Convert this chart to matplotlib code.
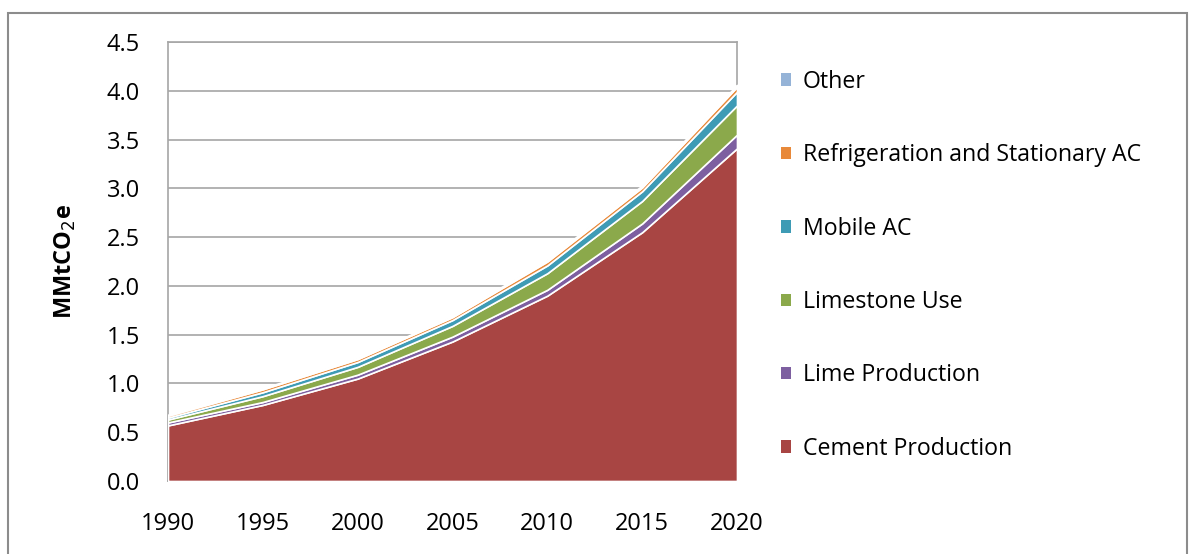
import numpy as np
import matplotlib.pyplot as plt
from matplotlib.patches import Patch, Rectangle

plt.rcParams['font.family'] = ['Open Sans', 'DejaVu Sans']

# Données (MMtCO2e)
years = [1990, 1995, 2000, 2005, 2010, 2015, 2020]
cement = [0.57, 0.78, 1.05, 1.43, 1.90, 2.55, 3.41]
lime = [0.03, 0.03, 0.04, 0.05, 0.06, 0.09, 0.14]
limestone = [0.03, 0.06, 0.08, 0.11, 0.17, 0.23, 0.30]
mobile_ac = [0.02, 0.04, 0.05, 0.06, 0.08, 0.10, 0.14]
refrig = [0.02, 0.03, 0.03, 0.03, 0.04, 0.04, 0.05]
other = [0.01, 0.01, 0.01, 0.01, 0.02, 0.02, 0.02]

labels = ["Cement Production", "Lime Production", "Limestone Use",
          "Mobile AC", "Refrigeration and Stationary AC", "Other"]
colors = ["#A84543", "#7D5FA0", "#8BA94B", "#3E9BB5", "#E8893A", "#95B3D7"]

fs = 17

fig = plt.figure(figsize=(11.9, 5.54), dpi=100)
ax = fig.add_axes([168/1190, 1-481/554, (737-168)/1190, (481-42)/554])

ax.stackplot(years, cement, lime, limestone, mobile_ac, refrig, other,
             colors=colors, edgecolor='white', linewidth=1.2, zorder=3)

ax.set_xlim(1990, 2020)
ax.set_ylim(0, 4.5)
ax.set_yticks(np.arange(0, 4.51, 0.5))
ax.set_yticklabels([f"{v:.1f}" for v in np.arange(0, 4.51, 0.5)])
ax.set_xticks(years)
ax.tick_params(axis='both', length=0, labelsize=fs)
ax.tick_params(axis='y', pad=20)
ax.tick_params(axis='x', pad=22)
ax.yaxis.grid(True, color='#A6A6A6', linewidth=1.2, zorder=0)
ax.set_axisbelow(True)
for s in ax.spines.values():
    s.set_color('#A6A6A6')
    s.set_linewidth(1.2)

ax.set_ylabel("MMtCO$_2$e", fontsize=fs, fontweight='bold', labelpad=21)

# Légende (ordre inversé)
handles = [Patch(facecolor=c, edgecolor='none') for c in colors]
fig.legend(handles[::-1], labels[::-1], loc='upper left',
           bbox_to_anchor=(760/1190, 1-49/554), frameon=False,
           fontsize=16.7, handlelength=0.45, handleheight=0.45,
           handletextpad=0.5, labelspacing=2.13)

# Cadre extérieur
fig.patches.append(Rectangle((8/1190, -0.1), (1187-8)/1190, 1.1-13/554,
                             transform=fig.transFigure, fill=False,
                             edgecolor='#8C8C8C', linewidth=1.5))

plt.savefig("out.png")
